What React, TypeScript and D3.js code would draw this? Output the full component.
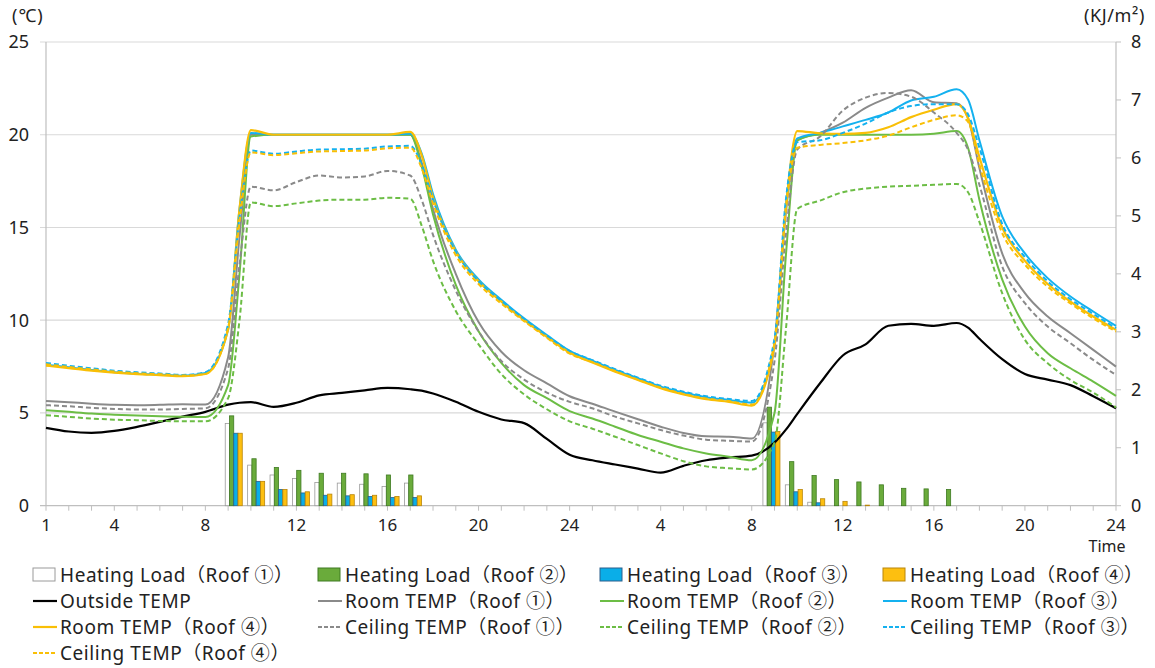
import React from "react";
import * as d3 from "d3";

// ---------- DATA ----------
// time axis (hours over two days; 25..48 = day 2 hours 1..24)
const hours = [1, 2, 3, 4, 5, 6, 7, 8, 9, 9.5, 10, 11, 12, 13, 14, 15, 16, 17, 17.5, 18, 19, 20, 21, 22, 23, 24,
  25, 26, 27, 28, 29, 30, 31, 32, 33, 33.5, 34, 35, 36, 37, 38, 39, 40, 41, 41.5, 42, 43, 44, 45, 46, 47, 48];

const outsideTemp = [4.2, 4.0, 3.93, 4.03, 4.25, 4.52, 4.8, 5.06, 5.45, 5.55, 5.58, 5.33, 5.55, 5.95, 6.08, 6.22, 6.35, 6.28, 6.2, 6.05, 5.6, 5.06, 4.65, 4.45, 3.6, 2.75,
  2.45, 2.22, 2.0, 1.78, 2.15, 2.45, 2.6, 2.7, 3.4, 4.1, 4.95, 6.6, 8.1, 8.7, 9.7, 9.8, 9.7, 9.85, 9.6, 9.0, 7.9, 7.1, 6.8, 6.5, 5.9, 5.25];

const roomTemp1 = [5.65, 5.58, 5.5, 5.44, 5.42, 5.44, 5.47, 5.45, 8.0, 14.5, 20.0, 20.0, 20.0, 20.0, 20.0, 20.0, 20.0, 20.0, 18.5, 16.0, 12.5, 9.9, 8.3, 7.3, 6.6, 5.9,
  5.5, 5.07, 4.66, 4.26, 3.92, 3.74, 3.72, 3.62, 8.8, 15.8, 19.7, 20.1, 20.65, 21.45, 22.0, 22.4, 21.75, 21.7, 20.9, 18.2, 13.6, 11.46, 10.2, 9.3, 8.4, 7.5];

const roomTemp2 = [5.15, 5.06, 4.97, 4.91, 4.86, 4.82, 4.79, 4.78, 6.5, 12.5, 19.9, 20.0, 20.0, 20.0, 20.0, 20.0, 20.0, 20.0, 18.3, 15.7, 11.9, 9.4, 7.7, 6.5, 5.8, 5.1,
  4.7, 4.26, 3.81, 3.45, 3.09, 2.82, 2.64, 2.45, 5.0, 13.5, 19.7, 20.0, 20.0, 20.0, 20.0, 20.0, 20.05, 20.2, 19.3, 16.5, 12.2, 9.66, 8.22, 7.41, 6.69, 5.92];

const roomTemp3 = [7.6, 7.46, 7.32, 7.2, 7.12, 7.07, 7.01, 7.15, 9.5, 16.0, 20.1, 20.0, 20.0, 20.0, 20.0, 20.0, 20.0, 20.05, 19.0, 16.8, 13.8, 12.2, 11.1, 10.1, 9.2, 8.35,
  7.82, 7.32, 6.87, 6.42, 6.1, 5.85, 5.7, 5.55, 8.7, 16.2, 19.8, 20.1, 20.45, 20.8, 21.2, 21.85, 22.05, 22.45, 21.9, 19.7, 15.6, 13.6, 12.27, 11.28, 10.47, 9.69];

const roomTemp4 = [7.55, 7.42, 7.28, 7.17, 7.09, 7.04, 6.98, 7.1, 9.5, 16.0, 20.25, 20.0, 20.0, 20.0, 20.0, 20.0, 20.0, 20.15, 18.9, 16.6, 13.7, 12.1, 11.0, 10.0, 9.1, 8.25,
  7.72, 7.23, 6.78, 6.33, 6.0, 5.74, 5.6, 5.4, 8.6, 16.1, 20.2, 20.08, 20.05, 20.1, 20.4, 20.95, 21.35, 21.65, 20.9, 18.8, 15.0, 13.2, 11.95, 11.0, 10.2, 9.48];

const ceilingTemp1 = [5.42, 5.36, 5.28, 5.22, 5.18, 5.18, 5.22, 5.25, 7.4, 13.0, 17.2, 17.0, 17.45, 17.8, 17.7, 17.75, 18.05, 17.8, 16.5, 14.6, 11.6, 9.4, 7.8, 6.8, 6.1, 5.6,
  5.25, 4.8, 4.44, 4.08, 3.78, 3.56, 3.5, 3.46, 7.8, 14.6, 19.2, 19.9, 21.3, 22.0, 22.25, 22.05, 21.2, 20.1, 19.2, 17.3, 12.9, 10.92, 9.66, 8.76, 7.86, 7.05];

const ceilingTemp2 = [4.88, 4.79, 4.7, 4.64, 4.61, 4.57, 4.55, 4.55, 5.8, 10.0, 16.35, 16.15, 16.3, 16.45, 16.5, 16.5, 16.6, 16.55, 15.1, 13.2, 10.5, 8.7, 7.1, 6.0, 5.2, 4.55,
  4.15, 3.72, 3.27, 2.82, 2.4, 2.12, 2.02, 1.95, 3.4, 9.5, 16.0, 16.45, 16.9, 17.1, 17.2, 17.25, 17.3, 17.35, 16.9, 15.3, 11.46, 8.94, 7.68, 6.78, 6.1, 5.3];

const ceilingTemp3 = [7.7, 7.54, 7.41, 7.28, 7.19, 7.13, 7.05, 7.2, 9.8, 15.6, 19.15, 18.97, 19.1, 19.2, 19.22, 19.25, 19.37, 19.4, 18.4, 16.5, 13.7, 12.1, 11.05, 10.05, 9.15, 8.35,
  7.85, 7.36, 6.9, 6.47, 6.15, 5.9, 5.75, 5.65, 9.0, 16.5, 19.6, 19.7, 20.1, 20.6, 21.2, 21.55, 21.65, 21.65, 21.1, 19.3, 15.2, 13.4, 12.1, 11.13, 10.34, 9.57];

const ceilingTemp4 = [7.62, 7.48, 7.35, 7.23, 7.14, 7.09, 7.02, 7.1, 9.6, 15.3, 19.05, 18.9, 19.0, 19.1, 19.12, 19.15, 19.27, 19.3, 18.2, 16.3, 13.5, 11.95, 10.9, 9.95, 9.05, 8.2,
  7.75, 7.26, 6.8, 6.37, 6.03, 5.78, 5.64, 5.45, 8.8, 16.0, 19.3, 19.45, 19.55, 19.7, 19.95, 20.4, 20.8, 21.05, 20.7, 18.4, 14.7, 13.0, 11.8, 10.9, 10.1, 9.39];

// heating load (KJ/m2), hourly categories
const loadHours = [9, 10, 11, 12, 13, 14, 15, 16, 17, 33, 34, 35, 36, 37, 38, 39, 40, 41];
const heatingLoad1 = [1.42, 0.70, 0.53, 0.47, 0.40, 0.39, 0.37, 0.33, 0.39, 1.43, 0.36, 0.06, 0, 0, 0, 0, 0, 0];
const heatingLoad2 = [1.55, 0.81, 0.66, 0.61, 0.56, 0.56, 0.55, 0.53, 0.53, 1.70, 0.76, 0.52, 0.45, 0.41, 0.36, 0.30, 0.29, 0.28];
const heatingLoad3 = [1.25, 0.42, 0.28, 0.22, 0.18, 0.17, 0.16, 0.14, 0.14, 1.27, 0.24, 0.05, 0, 0, 0, 0, 0, 0];
const heatingLoad4 = [1.25, 0.42, 0.28, 0.24, 0.20, 0.19, 0.18, 0.16, 0.17, 1.28, 0.28, 0.12, 0.075, 0.01, 0, 0, 0, 0];

// axis ticks
const xTickHours = [1, 4, 8, 12, 16, 20, 24, 28, 32, 36, 40, 44, 48];
const xTickLabels = ["1", "4", "8", "12", "16", "20", "24", "4", "8", "12", "16", "20", "24"];
const tempTicks = [0, 5, 10, 15, 20, 25];
const loadTicks = [0, 1, 2, 3, 4, 5, 6, 7, 8];

// ---------- STYLE ----------
const FONT = "'Noto Sans', 'Noto Sans CJK JP', sans-serif";
const C = {
  black: "#000000",
  gray: "#8a8a8a",
  green: "#6cbd45",
  blue: "#14b1ef",
  yellow: "#f9bf06",
  grid: "#d9d9d9",
  axis: "#bfbfbf",
};

const barSeries = [
  { name: "Heating Load（Roof ①）", values: heatingLoad1, fill: "#ffffff", stroke: "#9a9a9a" },
  { name: "Heating Load（Roof ②）", values: heatingLoad2, fill: "#6aab3b", stroke: "#3f7a22" },
  { name: "Heating Load（Roof ③）", values: heatingLoad3, fill: "#0aaee8", stroke: "#2a5f8c" },
  { name: "Heating Load（Roof ④）", values: heatingLoad4, fill: "#fdbf10", stroke: "#b9860a" },
];

const lineSeries = [
  { name: "Outside TEMP", values: outsideTemp, color: C.black, dash: "", w: 2.2 },
  { name: "Room TEMP（Roof ①）", values: roomTemp1, color: C.gray, dash: "", w: 2 },
  { name: "Room TEMP（Roof ②）", values: roomTemp2, color: C.green, dash: "", w: 2 },
  { name: "Room TEMP（Roof ③）", values: roomTemp3, color: C.blue, dash: "", w: 2 },
  { name: "Room TEMP（Roof ④）", values: roomTemp4, color: C.yellow, dash: "", w: 2.2 },
  { name: "Ceiling TEMP（Roof ①）", values: ceilingTemp1, color: C.gray, dash: "5,3", w: 2 },
  { name: "Ceiling TEMP（Roof ②）", values: ceilingTemp2, color: C.green, dash: "5,3", w: 2 },
  { name: "Ceiling TEMP（Roof ③）", values: ceilingTemp3, color: C.blue, dash: "5,3", w: 2 },
  { name: "Ceiling TEMP（Roof ④）", values: ceilingTemp4, color: C.yellow, dash: "5,3", w: 2 },
];

const W = 1155;
const H = 668;
const M = { left: 46, right: 1116, top: 42, bottom: 505.7 };

export default function App() {
  const x = d3.scaleLinear().domain([1, 48]).range([M.left, M.right]);
  const yT = d3.scaleLinear().domain([0, 25]).range([M.bottom, M.top]);
  const yL = d3.scaleLinear().domain([0, 8]).range([M.bottom, M.top]);
  const xBand = d3
    .scaleBand<number>()
    .domain(d3.range(1, 49))
    .range([M.left, M.right])
    .paddingInner(0.24)
    .paddingOuter(0)
    .align(0);
  const xSub = d3.scaleBand<number>().domain([0, 1, 2, 3]).range([0, xBand.bandwidth()]);

  const makeLine = (vals: number[]) =>
    d3
      .line<number>()
      .x((_, i) => x(hours[i]))
      .y((v) => yT(v))
      .curve(d3.curveMonotoneX)(vals) || "";

  const legendCols = [33, 318, 600, 883];
  const legendRows = [575, 601, 627, 653];
  const legendItems: { name: string; kind: "bar" | "line"; fill?: string; stroke?: string; color?: string; dash?: string; w?: number }[] = [
    ...barSeries.map((b) => ({ name: b.name, kind: "bar" as const, fill: b.fill, stroke: b.stroke })),
    ...lineSeries.map((l) => ({ name: l.name, kind: "line" as const, color: l.color, dash: l.dash, w: l.w })),
  ];

  return (
    <svg
      width={W}
      height={H}
      style={{ position: "absolute", left: 0, top: 0, background: "#fff" }}
      fontFamily={FONT}
    >
      <rect x={0} y={0} width={W} height={H} fill="#ffffff" />
      {/* gridlines */}
      {tempTicks.filter((t) => t > 0).map((t) => (
        <line key={"g" + t} x1={M.left - 6} x2={M.right} y1={yT(t)} y2={yT(t)} stroke={C.grid} strokeWidth={1.2} />
      ))}
      {/* axes */}
      <line x1={M.left} x2={M.left} y1={M.top} y2={M.bottom} stroke={C.axis} strokeWidth={1.2} />
      <line x1={M.right} x2={M.right} y1={M.top} y2={M.bottom} stroke={C.axis} strokeWidth={1.2} />
      <line x1={M.left - 6} x2={M.right} y1={M.bottom} y2={M.bottom} stroke={C.axis} strokeWidth={1.2} />
      {d3.range(1, 49).map((h) => (
        <line key={"xt" + h} x1={x(h)} x2={x(h)} y1={M.bottom} y2={M.bottom + 5} stroke={C.axis} strokeWidth={1} />
      ))}
      {loadTicks.map((t) => (
        <line key={"rt" + t} x1={M.right} x2={M.right + 5} y1={yL(t)} y2={yL(t)} stroke={C.axis} strokeWidth={1} />
      ))}
      {/* left labels */}
      {tempTicks.map((t) => (
        <text key={"lt" + t} x={29} y={yT(t)} dy="0.35em" textAnchor="end" fontSize={18} fill="#222">
          {t}
        </text>
      ))}
      {/* right labels */}
      {loadTicks.map((t) => (
        <text key={"rl" + t} x={1131} y={yL(t)} dy="0.35em" textAnchor="start" fontSize={18} fill="#222">
          {t}
        </text>
      ))}
      {/* x labels */}
      {xTickHours.map((h, i) => (
        <text key={"xl" + i} x={x(h)} y={531} textAnchor="middle" fontSize={17} fill="#222">
          {xTickLabels[i]}
        </text>
      ))}
      <text x={1107} y={552} textAnchor="middle" fontSize={16} fill="#222">Time</text>
      {/* unit labels */}
      <text x={12} y={22} fontSize={18} fill="#222" letterSpacing={1}>(℃)</text>
      <text x={1084} y={22} fontSize={18} fill="#222" letterSpacing={0.6}>(KJ/m²)</text>

      {/* bars */}
      {barSeries.map((s, si) =>
        s.values.map((v, i) =>
          v > 0 ? (
            <rect
              key={"b" + si + "_" + i}
              x={(xBand(loadHours[i]) as number) + (xSub(si) as number)}
              y={yL(v)}
              width={xSub.bandwidth()}
              height={yL(0) - yL(v)}
              fill={s.fill}
              stroke={s.stroke}
              strokeWidth={0.8}
            />
          ) : null
        )
      )}

      {/* lines */}
      {lineSeries.map((s, i) => (
        <path
          key={"l" + i}
          d={makeLine(s.values)}
          fill="none"
          stroke={s.color}
          strokeWidth={s.w}
          strokeDasharray={s.dash || undefined}
          strokeLinejoin="round"
        />
      ))}

      {/* legend */}
      {legendItems.map((it, i) => {
        const cx = legendCols[i % 4];
        const cy = legendRows[Math.floor(i / 4)];
        return (
          <g key={"lg" + i}>
            {it.kind === "bar" ? (
              <rect x={cx} y={cy - 7} width={22} height={13} fill={it.fill} stroke={it.stroke} strokeWidth={1} />
            ) : (
              <line x1={cx} x2={cx + 24} y1={cy} y2={cy} stroke={it.color} strokeWidth={it.w} strokeDasharray={it.dash ? "4,2" : undefined} />
            )}
            <text x={cx + 27} y={cy} dy="0.36em" fontSize={19} letterSpacing={0.55} fill="#222">
              {it.name}
            </text>
          </g>
        );
      })}
    </svg>
  );
}
